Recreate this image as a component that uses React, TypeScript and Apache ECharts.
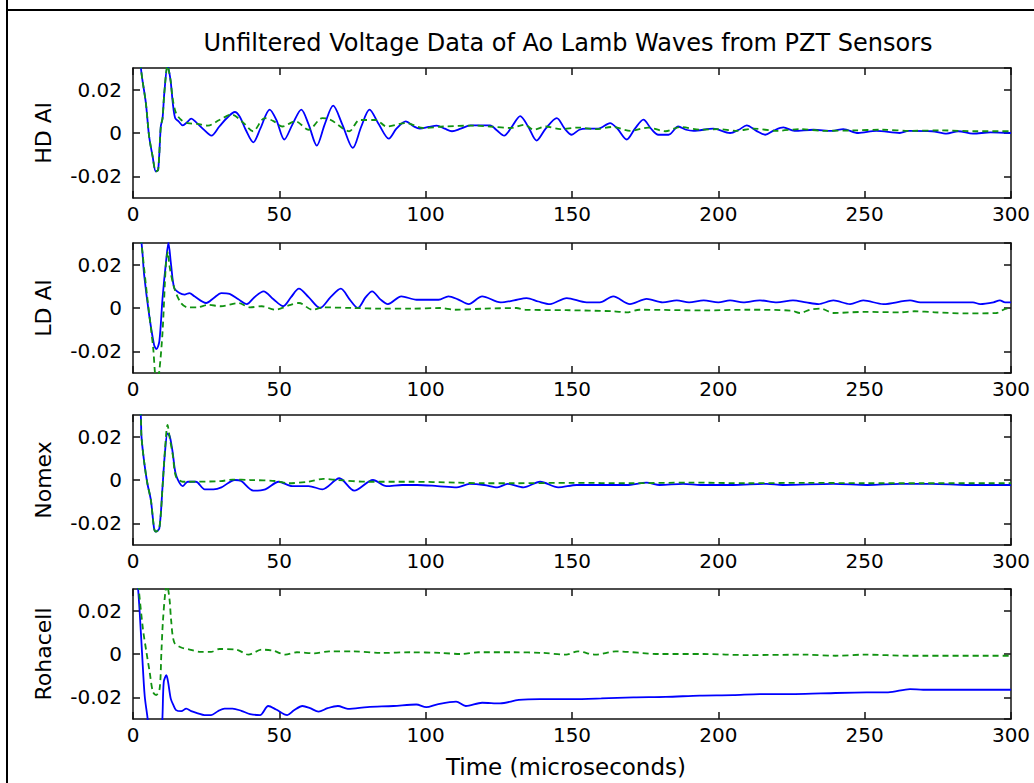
import React, { useEffect, useRef } from "react";
import * as echarts from "echarts";

const chartTitle = "Unfiltered Voltage Data of Ao Lamb Waves from PZT Sensors";
const xAxisTitle = "Time (microseconds)";
const panelNames = ["HD Al", "LD Al", "Nomex", "Rohacell"];
const timeTicks = { min: 0, max: 300, step: 50 };
const voltRange = { min: -0.03, max: 0.03, step: 0.02 };

// [time (µs), voltage]
const hdAlBlue = [
  [0, 0.06], [2.6, 0.031], [3.2, 0.0246], [4.4, 0.0138], [5.5, -0.0015], [6.7, -0.0108], [7.8, -0.0177], [8.6, -0.017],
  [9.5, 0.003], [10.1, 0.0069], [10.7, 0.0185], [11.8, 0.031], [12.8, 0.0246], [13.6, 0.0138], [14.4, 0.0069], [15.5, 0.0055],
  [17, 0.0035], [18.5, 0.005], [19.9, 0.0066], [21.5, 0.005], [24, 0.0018], [26.8, -0.0012], [29.5, 0.003], [32, 0.0068],
  [34.8, 0.0097], [36.5, 0.0075], [38.5, 0.0015], [41.1, -0.0043], [43.5, 0.002], [46.7, 0.0108], [49, 0.006], [51.7, -0.003],
  [54.5, 0.004], [57.5, 0.0108], [60, 0.004], [62.8, -0.0058], [65.5, 0.004], [68.4, 0.0126], [71.5, 0.004], [75.1, -0.0069],
  [78, 0.003], [80.8, 0.0108], [84, 0.004], [87.4, -0.0026], [90, 0.002], [93.2, 0.0054], [96, 0.003], [98, 0.002],
  [101, 0.0028], [103.8, 0.0034], [106.5, 0.002], [109, 0.0008], [112, 0.002], [115.3, 0.0035], [122, 0.0035], [124.5, 0.001],
  [126.8, -0.0012], [129.5, 0.003], [132.3, 0.0078], [135, 0.003], [137.9, -0.0035], [141, 0.002], [144.8, 0.0069], [147.5, 0.002],
  [149.9, -0.0008], [152.5, 0.0015], [155, 0.002], [159, 0.002], [163, 0.0046], [165.5, 0.002], [168.7, -0.003], [171.5, 0.002],
  [174.4, 0.0062], [177, 0.002], [179.5, -0.0008], [183, -0.0008], [186.3, 0.003], [189, 0.0015], [191.5, 0.001], [198.3, 0.002],
  [204, 0], [207, 0.0015], [209.7, 0.0035], [213, 0.001], [216, -0.0008], [219, 0.0012], [222.2, 0.0026], [226, 0.001],
  [232.5, 0.0015], [239, 0.001], [242.7, 0.0018], [247.8, 0], [254, 0.001], [262, 0], [265, 0.001], [273, 0.0008],
  [278, -0.0003], [282, 0.0008], [287, -0.0003], [293, 0.0003], [300, 0],
];
const hdAlGreen = [
  [0, 0.06], [2.6, 0.031], [3.2, 0.0246], [4.4, 0.0138], [5.5, -0.0015], [6.7, -0.0108], [7.8, -0.0177], [8.6, -0.017],
  [9.5, 0.003], [10.1, 0.0069], [10.7, 0.0185], [11.8, 0.031], [12.8, 0.0246], [13.6, 0.0155], [14.7, 0.0092], [16.5, 0.006],
  [18.7, 0.0046], [22, 0.0042], [25.6, 0.0034], [29.5, 0.006], [33.7, 0.0085], [37.5, 0.005], [41, 0.0008], [45, 0.0069],
  [48, 0.0055], [51, 0.003], [55.5, 0.0054], [60, 0.0015], [64.7, 0.0069], [67.6, 0.006], [73.9, 0.0008], [77.4, 0.006],
  [83.1, 0.006], [86.6, 0.003], [93.4, 0.0046], [99, 0.0023], [106, 0.003], [116.4, 0.0034], [122, 0.003], [129, 0.0023],
  [133.7, 0.0038], [137, 0.0015], [141, 0.003], [146, 0.0018], [152, 0.0025], [158, 0.0018], [164, 0.0028], [170, 0.001],
  [176, 0.0025], [182, 0.0008], [187, 0.0028], [194, 0.0015], [200, 0.0018], [206, 0.001], [212, 0.002], [220, 0.001],
  [228, 0.0018], [236, 0.001], [246, 0.0012], [256, 0.0015], [266, 0.001], [276, 0.0012], [288, 0.0008], [300, 0.0008],
];

const ldAlBlue = [
  [0, 0.06], [2.5, 0.035], [3.2, 0.026], [3.8, 0.0154], [5.5, -0.003], [7.2, -0.017], [8, -0.019], [9, -0.0154],
  [10.1, 0.0046], [11.3, 0.0215], [12.1, 0.03], [13, 0.02], [14.1, 0.0092], [15.9, 0.0069], [17.6, 0.0062], [19.3, 0.0069],
  [21, 0.0054], [25, 0.0023], [27.5, 0.0045], [30.2, 0.0069], [33, 0.0065], [36, 0.004], [38.9, 0.0018], [41.5, 0.005],
  [44.6, 0.0077], [48, 0.004], [51.3, 0.0008], [54, 0.005], [56.7, 0.0089], [60, 0.005], [63.9, 0], [67.5, 0.005],
  [71, 0.0089], [74, 0.004], [76.8, 0], [79.5, 0.005], [81.7, 0.0077], [84.5, 0.004], [87.1, 0.0018], [91.7, 0.0054],
  [96.9, 0.0038], [104.4, 0.0038], [107.8, 0.0054], [111, 0.004], [114.7, 0.0018], [119.3, 0.0054], [125.6, 0.0026], [130.2, 0.0035],
  [134.5, 0.0046], [138.5, 0.003], [142.5, 0.0018], [148.2, 0.0046], [155, 0.0026], [159.5, 0.0026], [164.1, 0.0054], [169.8, 0.0018],
  [175.5, 0.0042], [181, 0.0026], [185.8, 0.0035], [190, 0.0026], [195, 0.0035], [200, 0.0026], [204, 0.0035], [208.5, 0.0026],
  [214.2, 0.0035], [220, 0.0026], [225.5, 0.0035], [230, 0.0026], [234.2, 0.0018], [239.3, 0.0035], [245, 0.0018], [249.5, 0.0035],
  [256.4, 0.0018], [265.5, 0.0035], [269, 0.0026], [287, 0.0026], [289.5, 0.0018], [294, 0.0026], [296.2, 0.0035], [298, 0.0026],
  [300, 0.0026],
];
const ldAlGreen = [
  [0, 0.06], [2.5, 0.035], [3.2, 0.026], [4.9, 0.0046], [6.9, -0.0185], [7.6, -0.031], [8.3, -0.034], [9, -0.029],
  [10.1, -0.011], [11.3, 0.0215], [12, 0.026], [12.4, 0.02], [14.1, 0.0092], [16.4, 0.0023], [18.7, 0.0003], [22, 0.0003],
  [25.6, 0.0015], [30, 0.0008], [36, 0.0023], [40, 0.0003], [44, 0.0008], [48.6, -0.0008], [53.2, 0.0012], [56.7, 0.0023],
  [61.3, -0.0008], [65, 0.0003], [75, 0], [85, -0.0003], [95, -0.0003], [105, 0], [110, -0.0008], [120, -0.0003],
  [131, 0], [134, -0.0008], [148, -0.001], [164, -0.0015], [168.7, -0.002], [173, -0.0008], [195, -0.0011], [210, -0.0008],
  [225, -0.0012], [227.9, -0.0023], [231.3, -0.0008], [235, -0.0003], [239.3, -0.0023], [250, -0.0018], [262, -0.002], [267, -0.0015],
  [274, -0.002], [285, -0.0025], [295, -0.0023], [298.5, -0.0003], [300, -0.0003],
];

const nomexBlue = [
  [0, 0.06], [2.6, 0.031], [2.9, 0.02], [3.8, 0.0085], [4.9, -0.0015], [6.1, -0.0092], [7.2, -0.0223], [7.8, -0.0238],
  [9, -0.0223], [10.1, -0.003], [10.9, 0.0123], [11.8, 0.0215], [12.6, 0.02], [13.6, 0.0123], [14.7, 0.0023], [17, -0.0028],
  [18.7, -0.0008], [21.5, -0.0008], [24.5, -0.0043], [27.5, -0.0043], [30.2, -0.0034], [34.8, 0], [37, -0.0005], [41.1, -0.0049],
  [45.2, -0.0043], [49.8, -0.0008], [54.4, -0.0028], [60, -0.0028], [64.7, -0.0043], [70.5, 0.0008], [75.6, -0.0049], [82, 0],
  [86.6, -0.0028], [92, -0.0023], [97, -0.0023], [104, -0.0028], [110.7, -0.0034], [115, -0.0018], [120, -0.0023], [124.5, -0.0034],
  [128, -0.0018], [133.4, -0.0034], [139.1, -0.0008], [145.3, -0.0034], [151.6, -0.0023], [159.6, -0.0023], [168.7, -0.0023], [175.5, -0.0012],
  [180, -0.0023], [188, -0.0018], [194, -0.0023], [205, -0.0023], [216.5, -0.0018], [222, -0.0023], [239.3, -0.0018], [251, -0.0023],
  [262, -0.0018], [273, -0.0018], [285, -0.0023], [300, -0.0023],
];
const nomexGreen = [
  [0, 0.06], [2.6, 0.031], [2.9, 0.02], [3.8, 0.0085], [4.9, -0.0015], [6.1, -0.0092], [7.2, -0.0223], [7.8, -0.0238],
  [9, -0.0223], [10.1, -0.003], [10.9, 0.0135], [11.8, 0.0254], [12.6, 0.019], [13.6, 0.0115], [14.7, 0.0015], [17, -0.0008],
  [18.7, -0.0008], [30, -0.0005], [34, 0.0002], [40, 0], [49, -0.0005], [53, -0.0015], [60, -0.0008], [65, 0.0005],
  [70, 0], [80, -0.0008], [95, -0.0008], [110, -0.0012], [120, -0.0015], [130, -0.0015], [150, -0.0013], [170, -0.0015],
  [190, -0.0012], [210, -0.0015], [230, -0.0013], [250, -0.0015], [270, -0.0015], [300, -0.0015],
];

const rohacellBlue = [
  [0, 0.06], [1.7, 0.031], [2.3, 0.019], [3.1, 0.0003], [4.0, -0.0194], [5.1, -0.031], [6, -0.045], [9, -0.045],
  [10, -0.031], [10.5, -0.013], [11.4, -0.0098], [12, -0.013], [12.9, -0.0206], [13.8, -0.0236], [14.7, -0.0259], [16.5, -0.0264],
  [18.2, -0.0252], [19.9, -0.0264], [22.2, -0.0274], [24.4, -0.0282], [26.7, -0.0282], [29, -0.0264], [31.3, -0.0252], [34, -0.0252],
  [37, -0.0262], [40, -0.0277], [43.4, -0.0282], [46.2, -0.024], [48.9, -0.0256], [52.7, -0.0282], [55, -0.026], [57.9, -0.024],
  [60.5, -0.025], [63.4, -0.0266], [66.5, -0.025], [70, -0.024], [73.4, -0.0253], [80.1, -0.0245], [89, -0.024], [96.8, -0.0233],
  [100.2, -0.0245], [104, -0.0232], [110.4, -0.022], [113.7, -0.024], [119.3, -0.0225], [125.4, -0.0228], [131.8, -0.0212], [139, -0.0208],
  [150, -0.0208], [160, -0.0205], [171, -0.02], [182, -0.0198], [193.7, -0.0192], [205, -0.019], [214.2, -0.0185], [225, -0.0185],
  [235, -0.0182], [250.7, -0.0177], [258, -0.0177], [265.5, -0.0162], [270, -0.0165], [278, -0.0165], [300, -0.0165],
];
const rohacellGreen = [
  [0, 0.06], [1.9, 0.031], [3.4, 0.0115], [4.6, 0.0008], [5.7, -0.0084], [6.8, -0.0175], [7.9, -0.019], [9.1, -0.016],
  [9.7, 0.0008], [10.2, 0.0146], [11, 0.028], [11.6, 0.032], [12.5, 0.025], [13, 0.016], [14.1, 0.0053], [16.5, 0.003],
  [18.8, 0.0023], [23.2, 0.001], [26.7, 0.001], [29.5, 0.0023], [35.4, 0.002], [39.4, -0.0003], [44, 0.002], [48, 0.0015],
  [52, -0.0003], [56, 0.0008], [62, 0.0003], [67, 0.0012], [75, 0.0012], [85, 0.0005], [95, 0.0008], [105, 0.0005],
  [112, 0], [118, 0.0008], [130, 0.0008], [140, 0.0005], [148, -0.0003], [152, 0.0012], [158, -0.0003], [165, 0.0012],
  [180, 0], [195, 0], [210, -0.0005], [230, -0.0003], [240, -0.0008], [250, -0.0003], [265, -0.0008], [300, -0.0008],
];

const panelSeries = [
  [hdAlBlue, hdAlGreen],
  [ldAlBlue, ldAlGreen],
  [nomexBlue, nomexGreen],
  [rohacellBlue, rohacellGreen],
];

const FONT = "DejaVu Sans";
const GRID_LEFT = 133;
const GRID_WIDTH = 878;
const GRID_HEIGHT = 130;
const panelTops = [68, 243, 415, 589];

function buildOption() {
  const axisLine = { show: true, onZero: false, lineStyle: { color: "#111", width: 1.5 } };
  const axisTick = { show: true, inside: true, length: 7, lineStyle: { color: "#111", width: 1.5 } };
  const grids: any[] = [];
  const xAxes: any[] = [];
  const yAxes: any[] = [];
  const series: any[] = [];
  const graphics: any[] = [];

  panelTops.forEach((top, i) => {
    grids.push({ left: GRID_LEFT, width: GRID_WIDTH, top, height: GRID_HEIGHT, show: false, containLabel: false });
    const xBase = {
      gridIndex: i, type: "value", min: timeTicks.min, max: timeTicks.max, interval: timeTicks.step,
      axisLine, axisTick, splitLine: { show: false },
    };
    xAxes.push({
      ...xBase, position: "bottom",
      axisLabel: { show: true, color: "#000", fontSize: 20, fontFamily: FONT, margin: 6 },
    });
    xAxes.push({ ...xBase, position: "top", axisLabel: { show: false } });
    const yBase = {
      gridIndex: i, type: "value", min: voltRange.min, max: voltRange.max, splitNumber: 3,
      minInterval: voltRange.step, maxInterval: voltRange.step,
      axisLine, axisTick, splitLine: { show: false },
    };
    yAxes.push({
      ...yBase, position: "left",
      axisLabel: {
        show: true, color: "#000", fontSize: 20, fontFamily: FONT, margin: 11,
        showMinLabel: false, showMaxLabel: false,
        formatter: (v: number) => {
          if (Math.abs(v) > 0.025) return "";
          const r = Math.round(v * 100) / 100;
          return r === 0 ? "0" : String(r);
        },
      },
    });
    yAxes.push({ ...yBase, position: "right", axisLabel: { show: false } });

    const [blue, green] = panelSeries[i];
    series.push({
      type: "line", xAxisIndex: 2 * i, yAxisIndex: 2 * i, data: blue, showSymbol: false, symbol: "none",
      smooth: 0.3, clip: true, lineStyle: { color: "#0000ff", width: 1.8 }, z: 2,
    });
    series.push({
      type: "line", xAxisIndex: 2 * i, yAxisIndex: 2 * i, data: green, showSymbol: false, symbol: "none",
      smooth: 0.3, clip: true, lineStyle: { color: "#119211", width: 1.8, type: [6, 4] }, z: 3,
    });

    graphics.push({
      type: "text", x: 43, y: top + GRID_HEIGHT / 2, rotation: Math.PI / 2,
      style: { text: panelNames[i], fontSize: 22, fontFamily: FONT, fill: "#000", align: "center", verticalAlign: "middle" },
    });
  });

  graphics.push({
    type: "text", x: 568, y: 43,
    style: { text: chartTitle, fontSize: 24, fontFamily: FONT, fill: "#000", align: "center", verticalAlign: "middle" },
  });
  graphics.push({
    type: "text", x: 566, y: 767,
    style: { text: xAxisTitle, fontSize: 23, fontFamily: FONT, fill: "#000", align: "center", verticalAlign: "middle" },
  });
  graphics.push({ type: "line", shape: { x1: 7, y1: 0, x2: 7, y2: 783 }, style: { stroke: "#000", lineWidth: 2 } });
  graphics.push({ type: "line", shape: { x1: 7, y1: 10, x2: 1034, y2: 10 }, style: { stroke: "#000", lineWidth: 2 } });

  return {
    animation: false,
    backgroundColor: "#fff",
    grid: grids,
    xAxis: xAxes,
    yAxis: yAxes,
    series,
    graphic: graphics,
  };
}

export default function App() {
  const ref = useRef<HTMLDivElement>(null);
  useEffect(() => {
    if (!ref.current) return;
    const chart = echarts.init(ref.current, undefined, { renderer: "svg" });
    chart.setOption(buildOption());
    return () => chart.dispose();
  }, []);
  return (
    <div
      ref={ref}
      style={{ position: "fixed", left: 0, top: 0, width: 1034, height: 783, background: "#fff" }}
    />
  );
}
